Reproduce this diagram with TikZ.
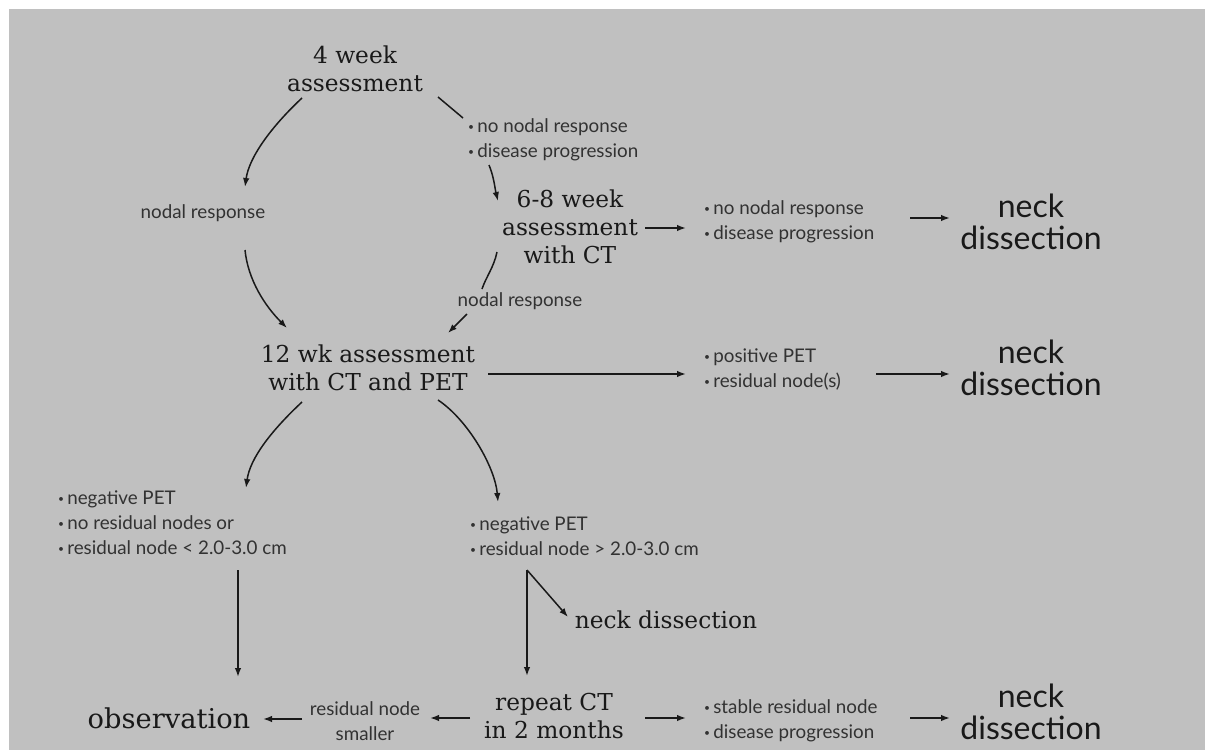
\documentclass[tikz,border=0pt]{standalone}
\usepackage{fontspec}
\usepackage{graphicx}
\setmainfont{DejaVu Serif}
\newfontfamily\smallsans{Lato}
\newfontfamily\bigsans{Lato}
\usetikzlibrary{arrows.meta}
\definecolor{bggray}{RGB}{192,192,192}
\definecolor{ink}{RGB}{25,25,25}
\definecolor{inksoft}{RGB}{50,50,50}
\newcommand\bul{\raisebox{0.2ex}{\scalebox{0.55}{•}}\,}
\begin{document}
\begin{tikzpicture}[x=1pt,y=-1pt,
  big/.style={font=\fontsize{23.3}{28}\selectfont, align=center, inner sep=0pt, text=ink},
  lst/.style={font=\smallsans\fontsize{18.8}{25}\selectfont, align=left, anchor=west, inner sep=0pt, text=inksoft},
  lbl/.style={font=\smallsans\fontsize{18.8}{25}\selectfont, align=center, inner sep=0pt, text=inksoft},
  nd/.style={font=\bigsans\fontsize{32}{32}\selectfont, align=center, inner sep=0pt, text=ink},
  arr/.style={-{Latex[length=9pt,width=6.5pt]}, line width=1.5pt, draw=ink},
  ln/.style={line width=1.5pt, draw=ink}]
\useasboundingbox (0,0) rectangle (1205,750);
\fill[white] (0,0) rectangle (1205,750);
\fill[bggray] (9,9) rectangle (1205,750);

\node[big] (n4) at (355,69) {4 week\\assessment};
\node[lbl] (nr1) at (203,213) {nodal response};
\node[lst] (L1) at (468,140) {\bul no nodal response\\\bul disease progression};
\node[big] (n68) at (570,227) {6-8 week\\assessment\\with CT};
\node[lst] (L2) at (704,222) {\bul no nodal response\\\bul disease progression};
\node[nd] (nd1) at (1031,222) {neck\\dissection};
\node[lbl] (nr2) at (520,301) {nodal response};
\node[big] (n12) at (368,368) {12 wk assessment\\with CT and PET};
\node[lst] (L3) at (704,369) {\bul positive PET\\\bul residual node(s)};
\node[nd] (nd2) at (1031,368) {neck\\dissection};
\node[lst] (L4) at (58,523) {\bul negative PET\\\bul no residual nodes or\\\bul residual node < 2.0-3.0 cm};
\node[lst] (L5) at (470,536) {\bul negative PET\\\bul residual node > 2.0-3.0 cm};
\node[big] (nd3) at (666,620) {neck dissection};
\node[big, font=\fontsize{27.3}{28}\selectfont] (obs) at (169,718) {observation};
\node[lbl] (rs) at (365,721) {residual node\\smaller};
\node[big] (rct) at (554,716) {repeat CT\\in 2 months};
\node[lst] (L6) at (704,721) {\bul stable residual node\\\bul disease progression};
\node[nd] (nd4) at (1031,712) {neck\\dissection};

\draw[arr] ([shift={(-53,29)}]n4.center) .. controls +(-30,28) and +(4,-30) .. ([shift={(42,-26)}]nr1.center);
\draw[arr] ([shift={(42,37)}]nr1.center) .. controls +(3,30) and +(-22,-22) .. ([shift={(-81,-40)}]n12.center);
\draw[ln] ([shift={(83,28)}]n4.center) -- ([shift={(-5,-22)}]L1.west);
\draw[arr] ([shift={(21,25)}]L1.west) .. controls +(5,12) and +(-3,-12) .. ([shift={(-72,-26)}]n68.center);
\draw[arr] ([shift={(75,1)}]n68.center) -- ([shift={(-18,6)}]L2.west);
\draw[arr] ([shift={(206,-4)}]L2.west) -- ([shift={(-81,-4)}]nd1.center);
\draw[ln] ([shift={(-73,25)}]n68.center) .. controls +(-3,15) and +(4,-12) .. ([shift={(-38,-12)}]nr2.center);
\draw[arr] ([shift={(-53,13)}]nr2.center) -- ([shift={(80,-35)}]n12.center);
\draw[arr] ([shift={(120,6)}]n12.center) -- ([shift={(-18,5)}]L3.west);
\draw[arr] ([shift={(172,5)}]L3.west) -- ([shift={(-81,6)}]nd2.center);
\draw[arr] ([shift={(-66,34)}]n12.center) .. controls +(-30,28) and +(4,-30) .. ([shift={(188,-35)}]L4.west);
\draw[arr] ([shift={(70,32)}]n12.center) .. controls +(30,20) and +(-3,-35) .. ([shift={(28,-34)}]L5.west);
\draw[arr] ([shift={(180,47)}]L4.west) -- ([shift={(69,-41)}]obs.center);
\draw[arr] ([shift={(57,34)}]L5.west) -- ([shift={(-27,-40)}]rct.center);
\draw[arr] ([shift={(57,34)}]L5.west) -- ([shift={(-98,-3)}]nd3.center);
\draw[arr] ([shift={(-63,-2)}]rs.center) -- ([shift={(94,1)}]obs.center);
\draw[arr] ([shift={(-84,2)}]rct.center) -- ([shift={(65,-3)}]rs.center);
\draw[arr] ([shift={(91,2)}]rct.center) -- ([shift={(-18,-3)}]L6.west);
\draw[arr] ([shift={(206,-3)}]L6.west) -- ([shift={(-81,6)}]nd4.center);
\end{tikzpicture}
\end{document}
